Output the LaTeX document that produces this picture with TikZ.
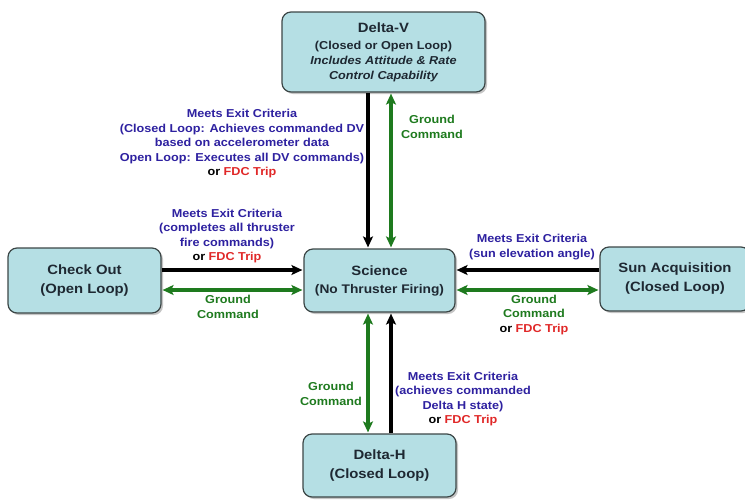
\documentclass[tikz,border=0pt]{standalone}
\usepackage{fontspec}
\setmainfont{Liberation Sans}[FakeStretch=1.1]
\usepackage{xcolor}
\usetikzlibrary{positioning, arrows.meta, shadows}

\definecolor{boxfill}{HTML}{B5DFE4}
\definecolor{boxline}{HTML}{3C4646}
\definecolor{boxtext}{HTML}{1E2832}
\definecolor{exitblue}{HTML}{2E21A0}
\definecolor{gndgreen}{HTML}{1E7A1E}
\definecolor{fdcred}{HTML}{E02828}

\newcommand{\fdc}{\textcolor{fdcred}{FDC Trip}}

\begin{document}
\begin{tikzpicture}[x=1pt, y=-1pt,
	>={Stealth[length=11pt, width=10pt, inset=2.5pt]},
	state/.style={draw=boxline, line width=1.2pt, fill=boxfill, rounded corners=9pt,
		drop shadow={shadow xshift=2pt, shadow yshift=-2pt, fill=black!45},
		align=center, text=boxtext, inner sep=2pt,
		font=\bfseries\fontsize{13.5}{19}\selectfont},
	exitlbl/.style={align=center, text=exitblue, font=\bfseries\fontsize{11.5}{14.5}\selectfont},
	gndlbl/.style={align=center, text=gndgreen, font=\bfseries\fontsize{11.5}{14.5}\selectfont},
	blackarrow/.style={line width=3.2pt, ->, shorten >=1pt},
	greenarrow/.style={line width=3.2pt, draw=gndgreen, <->, shorten >=1pt, shorten <=1pt}]
	\useasboundingbox (0,0) rectangle (745,499);
	
	% states
	\node[state, minimum width=203pt, minimum height=80pt] (dv) at (383.5,52)
		{Delta-V\\[-2pt]
		{\fontsize{11.5}{15}\selectfont (Closed or Open Loop)}\\[-4pt]
		{\fontsize{11.5}{15}\selectfont\itshape Includes Attitude \& Rate}\\[-4pt]
		{\fontsize{11.5}{15}\selectfont\itshape Control Capability}};
	\node[state, minimum width=151pt, minimum height=63pt] (sci) at (379.5,280.5)
		{Science\\[-1pt] {\fontsize{12.5}{15}\selectfont (No Thruster Firing)}};
	\node[state, minimum width=153pt, minimum height=65pt] (co) at (84.5,280.5)
		{Check Out\\(Open Loop)};
	\node[state, minimum width=150pt, minimum height=64pt] (sun) at (675,279)
		{Sun Acquisition\\(Closed Loop)};
	\node[state, minimum width=153pt, minimum height=63pt] (dh) at (379.5,465.5)
		{Delta-H\\(Closed Loop)};
	
	% transitions
	\coordinate (xl) at (368,0);
	\coordinate (xr) at (391,0);
	\coordinate (yt) at (0,270);
	\coordinate (yb) at (0,290);
	\draw[blackarrow] (dv.south -| xl) -- (sci.north -| xl);
	\draw[greenarrow] (dv.south -| xr) -- (sci.north -| xr);
	\draw[greenarrow] (sci.south -| xl) -- (dh.north -| xl);
	\draw[blackarrow] (dh.north -| xr) -- (sci.south -| xr);
	\draw[blackarrow] (co.east |- yt) -- (sci.west |- yt);
	\draw[greenarrow] (co.east |- yb) -- (sci.west |- yb);
	\draw[blackarrow] (sun.west |- yt) -- (sci.east |- yt);
	\draw[greenarrow] (sci.east |- yb) -- (sun.west |- yb);
	
	% labels
	\node[exitlbl] (dvexit) at (242,144)
		{Meets Exit Criteria\\(Closed Loop: Achieves commanded DV\\based on accelerometer data\\Open Loop: Executes all DV commands)\\{\color{black}or} \fdc};
	\node[gndlbl] (dvgnd) at (432,127) {Ground\\Command};
	\node[exitlbl] (coexit) at (227,236)
		{Meets Exit Criteria\\(completes all thruster\\fire commands)\\{\color{black}or} \fdc};
	\node[gndlbl] (cognd) at (228,307) {Ground\\Command};
	\node[exitlbl] (sunexit) at (532,247) {Meets Exit Criteria\\(sun elevation angle)};
	\node[gndlbl] (sungnd) at (534,315) {Ground\\Command\\{\color{black}or} \fdc};
	\node[gndlbl] (dhgnd) at (331,394) {Ground\\Command};
	\node[exitlbl] (dhexit) at (463,399)
		{Meets Exit Criteria\\(achieves commanded\\Delta H state)\\{\color{black}or} \fdc};
\end{tikzpicture}
\end{document}
